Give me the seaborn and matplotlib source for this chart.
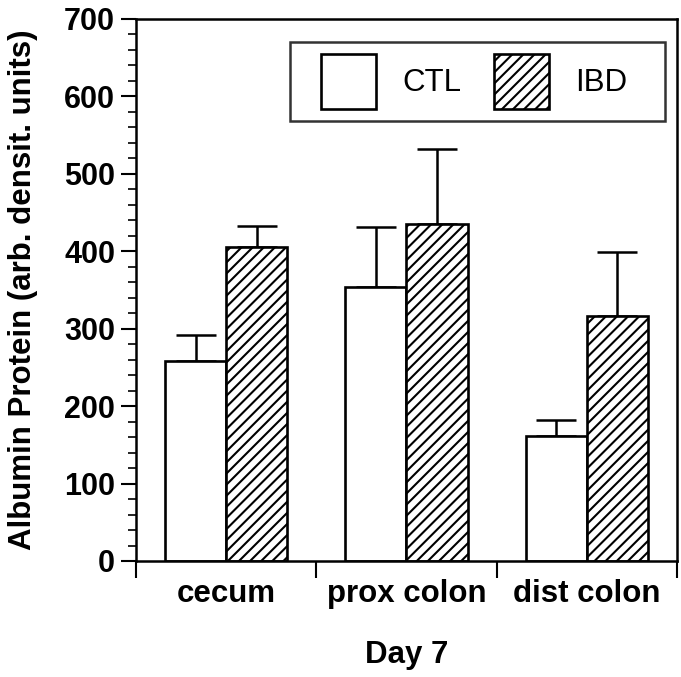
import numpy as np
import pandas as pd
import matplotlib
matplotlib.use("Agg")
import matplotlib.pyplot as plt
import matplotlib.patches as mpatches
from matplotlib.legend_handler import HandlerPatch
from matplotlib.offsetbox import DrawingArea
from matplotlib.ticker import MultipleLocator, FixedLocator
import seaborn as sns

regions = ["cecum", "prox colon", "dist colon"]
groups = ["CTL", "IBD"]
ctl_mean = [258, 354, 161]
ctl_err = [34, 77, 21]
ibd_mean = [405, 435, 316]
ibd_err = [28, 97, 83]
y_ticks = [0, 100, 200, 300, 400, 500, 600, 700]

df = pd.DataFrame({
    "region": regions * 2,
    "group": ["CTL"] * 3 + ["IBD"] * 3,
    "value": ctl_mean + ibd_mean,
})

sns.set_style("ticks")
plt.rcParams["font.family"] = ["Liberation Sans", "DejaVu Sans"]
for key in ["text.color", "axes.labelcolor", "xtick.color", "ytick.color",
            "axes.edgecolor"]:
    plt.rcParams[key] = "black"
plt.rcParams["hatch.linewidth"] = 1.5
plt.rcParams["hatch.color"] = "black"

fig = plt.figure(figsize=(6.81, 6.77), dpi=100)
fig.patch.set_facecolor("white")
ax = fig.add_axes([136 / 681, 1 - 561 / 677, 541 / 681, 542 / 677])

sns.barplot(data=df, x="region", y="value", hue="group", order=regions,
            hue_order=groups, palette=["white", "white"], edgecolor="black",
            linewidth=1.9, width=0.68, errorbar=None, legend=False, ax=ax,
            zorder=2)

errs = [ctl_err, ibd_err]
bar_conts = list(ax.containers)
for i, cont in enumerate(bar_conts):
    xs = [p.get_x() + p.get_width() / 2 for p in cont.patches]
    ys = [p.get_height() for p in cont.patches]
    if i == 1:
        for p in cont.patches:
            p.set_hatch("///")
    ax.errorbar(xs, ys, yerr=[np.zeros(len(errs[i])), errs[i]], fmt="none",
                ecolor="black", elinewidth=1.8, capsize=14.5, capthick=1.8,
                zorder=1)

ax.set_xlim(-0.5, 2.5)
ax.set_ylim(0, 700)
ax.set_yticks(y_ticks)
ax.yaxis.set_minor_locator(MultipleLocator(20))
ax.tick_params(axis="y", which="major", length=11, width=1.5, direction="out",
               pad=4, labelsize=22, colors="black")
ax.tick_params(axis="y", which="minor", length=6, width=1.2, direction="out",
               colors="black")
for lab in ax.get_yticklabels():
    lab.set_fontweight("bold")

ax.set_xticks([0, 1, 2])
ax.set_xticklabels(regions, fontsize=22.5, fontweight="bold")
ax.xaxis.set_minor_locator(FixedLocator([-0.5, 0.5, 1.5, 2.5]))
ax.tick_params(axis="x", which="major", length=0, pad=13, colors="black")
ax.tick_params(axis="x", which="minor", length=12, width=1.5, direction="out",
               colors="black")

for s in ax.spines.values():
    s.set_visible(True)
    s.set_linewidth(1.8)
    s.set_color("black")

ax.set_ylabel("Albumin Protein (arb. densit. units)", fontsize=22.5,
              fontweight="bold", color="black")
ax.yaxis.set_label_coords(-0.181, 0.5)
ax.set_xlabel("Day 7", fontsize=22.5, fontweight="bold", va="top",
              color="black")
ax.xaxis.set_label_coords(0.5, -0.146)


def square(legend, orig_handle, xdescent, ydescent, width, height, fontsize):
    return mpatches.Rectangle((-xdescent + width - height, -ydescent), height, height)


h_ctl = mpatches.Patch(facecolor="white", edgecolor="black", linewidth=1.9)
h_ibd = mpatches.Patch(facecolor="white", edgecolor="black", linewidth=1.9, hatch="///")
hm = {h_ctl: HandlerPatch(patch_func=square), h_ibd: HandlerPatch(patch_func=square)}
leg = ax.legend(handles=[h_ctl, h_ibd], labels=groups, ncol=2, fontsize=22.5,
                loc="upper right", bbox_to_anchor=(0.978, 0.9576),
                borderaxespad=0, frameon=True, fancybox=False,
                handlelength=2.37, handleheight=2.33, handletextpad=0.83,
                columnspacing=0.45, borderpad=0.384, handler_map=hm)
leg.get_frame().set_edgecolor("black")
leg.get_frame().set_linewidth(1.8)
for t in leg.get_texts():
    t.set_color("black")
# extra right padding inside the legend box
try:
    last_row = leg._legend_handle_box.get_children()[1].get_children()[0]
    last_row._children.append(DrawingArea(0, 0))
except Exception:
    pass

fig.savefig("out.png", dpi=100, facecolor="white")
